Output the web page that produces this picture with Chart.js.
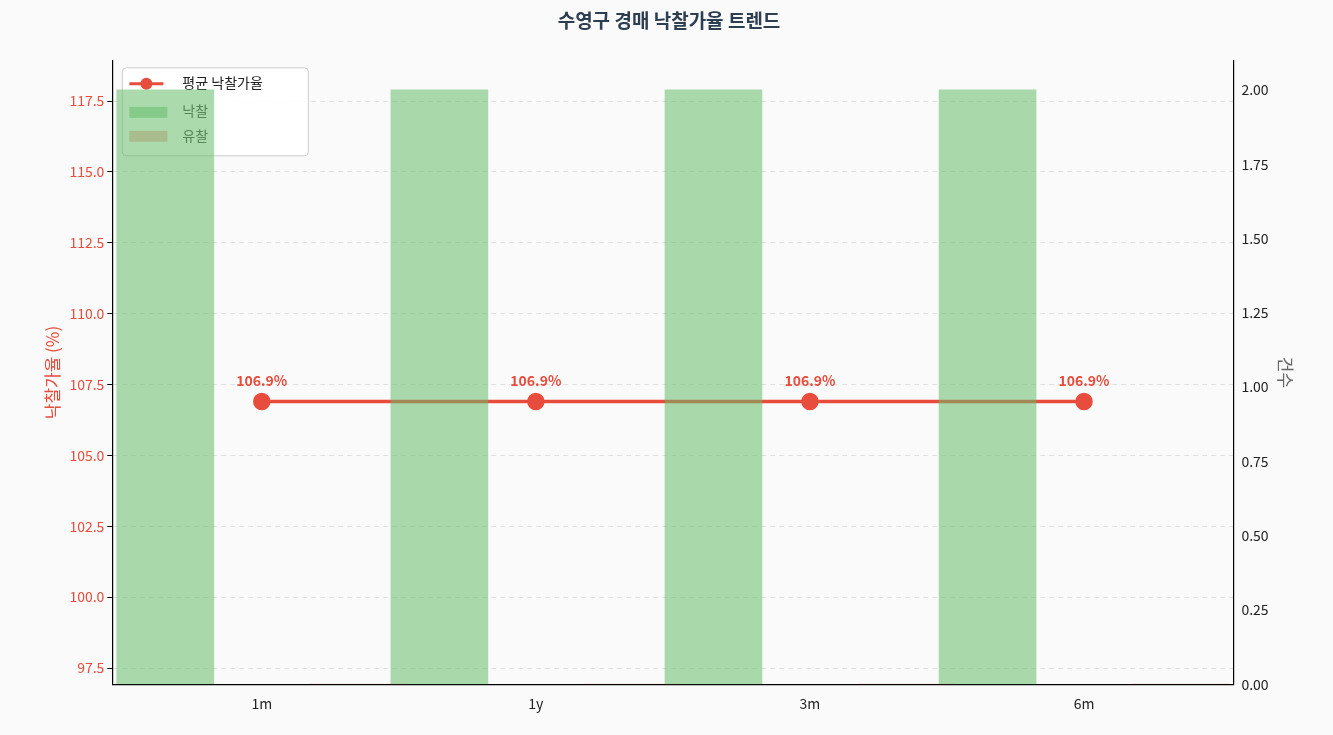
<!DOCTYPE html>
<html><head><meta charset="utf-8">
<script src="https://cdn.jsdelivr.net/npm/chart.js@4"></script>
<style>
html,body{margin:0;background:#fafafa;}
#wrap{width:1333px;height:735px;}
</style></head>
<body><div id="wrap"><canvas id="c"></canvas></div>
<script>
// 데이터
const categories = ["1m", "1y", "3m", "6m"];
const avgRate = [106.9, 106.9, 106.9, 106.9];
const soldCount = [2, 2, 2, 2];
const failedCount = [0, 0, 0, 0];

const RED = "#e74c3c";
const FONT = "'Noto Sans CJK KR', 'Noto Sans', sans-serif";
const BW = 0.35;

// 라벨 (선 아래에 그려져야 막대에 가려짐)
const rateLabels = {
  id: "rateLabels",
  afterDatasetDraw(chart, args) {
    if (args.index !== 2) return;
    const ctx = chart.ctx;
    ctx.save();
    ctx.font = "bold 14px " + FONT;
    ctx.fillStyle = RED;
    ctx.textAlign = "center";
    ctx.textBaseline = "bottom";
    args.meta.data.forEach((p, i) => {
      ctx.fillText(avgRate[i].toFixed(1) + "%", p.x, p.y - 14);
    });
    ctx.restore();
  }
};

// 범례 (막대 아래)
const boxLegend = {
  id: "boxLegend",
  beforeDatasetsDraw(chart) {
    const ctx = chart.ctx, a = chart.chartArea;
    const x = a.left + 10, y = a.top + 7, w = 186, h = 88;
    ctx.save();
    ctx.fillStyle = "rgba(255,255,255,0.85)";
    ctx.strokeStyle = "#cccccc";
    ctx.lineWidth = 1;
    ctx.beginPath();
    ctx.roundRect(x, y, w, h, 4);
    ctx.fill(); ctx.stroke();
    ctx.font = "14px " + FONT;
    ctx.textBaseline = "middle";
    ctx.strokeStyle = RED; ctx.lineWidth = 3;
    ctx.beginPath(); ctx.moveTo(x + 7, y + 16); ctx.lineTo(x + 41, y + 16); ctx.stroke();
    ctx.fillStyle = RED;
    ctx.beginPath(); ctx.arc(x + 24, y + 16, 6, 0, Math.PI * 2); ctx.fill();
    ctx.fillStyle = "#222";
    ctx.fillText("평균 낙찰가율", x + 60, y + 15);
    ctx.fillStyle = "rgba(102,187,106,0.55)";
    ctx.fillRect(x + 7, y + 39, 38, 11);
    ctx.fillStyle = "rgba(244,67,54,0.35)";
    ctx.fillRect(x + 7, y + 63, 38, 11);
    ctx.fillStyle = "#444";
    ctx.fillText("낙찰", x + 60, y + 43);
    ctx.fillText("유찰", x + 60, y + 68);
    ctx.restore();
  }
};

new Chart(document.getElementById("c"), {
  data: {
    datasets: [
      {
        type: "bar", label: "낙찰", yAxisID: "y1", order: 0,
        data: soldCount.map((v, i) => ({ x: i - BW / 2, y: v })),
        backgroundColor: "rgba(102,187,106,0.55)", barThickness: 97
      },
      {
        type: "bar", label: "유찰", yAxisID: "y1", order: 0,
        data: failedCount.map((v, i) => ({ x: i + BW / 2, y: v })),
        backgroundColor: "rgba(244,67,54,0.35)", barThickness: 97
      },
      {
        type: "line", label: "평균 낙찰가율", yAxisID: "y", order: 1,
        data: avgRate.map((v, i) => ({ x: i, y: v })),
        borderColor: RED, backgroundColor: RED, borderWidth: 3.5,
        pointRadius: 7, pointHoverRadius: 7
      }
    ]
  },
  options: {
    responsive: true, maintainAspectRatio: false, animation: false,
    layout: { padding: { left: 38, right: 33, top: 0, bottom: 17 } },
    plugins: {
      legend: { display: false }, tooltip: { enabled: false },
      title: {
        display: true, text: "수영구 경매 낙찰가율 트렌드", color: "#2c3e50",
        font: { family: FONT, size: 19, weight: "bold" }, padding: { top: 9, bottom: 29 }
      }
    },
    scales: {
      x: {
        type: "linear", min: -0.545, max: 3.545, offset: false,
        afterBuildTicks(s) { s.ticks = categories.map((c, i) => ({ value: i })); },
        ticks: { callback: v => categories[v], color: "#222", font: { family: FONT, size: 14 }, padding: 6 },
        grid: { display: false, drawTicks: true, tickLength: 5 },
        border: { color: "#000", width: 1.2 }
      },
      y: {
        position: "left", min: 96.93, max: 118.92,
        afterBuildTicks(s) { s.ticks = [97.5,100,102.5,105,107.5,110,112.5,115,117.5].map(v => ({ value: v })); },
        ticks: { callback: v => v.toFixed(1), color: RED, font: { family: FONT, size: 14 } },
        grid: { color: "rgba(0,0,0,0.1)", tickLength: 5, tickColor: "#000" },
        border: { dash: [5, 4], color: "#000", width: 1.2 },
        title: { display: true, text: "낙찰가율 (%)", color: RED, font: { family: FONT, size: 17 } }
      },
      y1: {
        position: "right", min: 0, max: 2.098,
        afterBuildTicks(s) { s.ticks = [0,0.25,0.5,0.75,1,1.25,1.5,1.75,2].map(v => ({ value: v })); },
        ticks: { callback: v => v.toFixed(2), color: "#222", font: { family: FONT, size: 14 } },
        grid: { display: false, tickLength: 5 },
        border: { color: "#000", width: 1.2 },
        title: { display: true, text: "건수", color: "#666", font: { family: FONT, size: 17 } }
      }
    }
  },
  plugins: [rateLabels, boxLegend]
});
</script></body></html>
